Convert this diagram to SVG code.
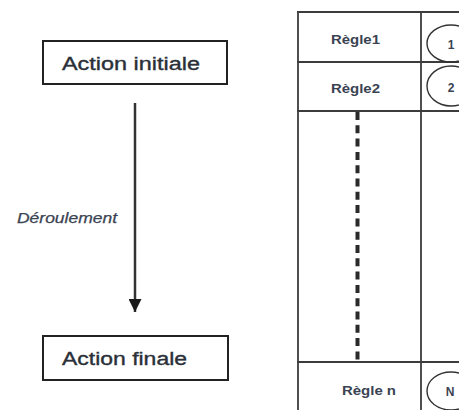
<svg xmlns="http://www.w3.org/2000/svg" width="459" height="410" viewBox="0 0 459 410">
  <style>
    .box { fill: #ffffff; stroke: #222222; stroke-width: 2; }
    .big { font-family: "Liberation Sans", Arial, sans-serif; font-size: 18px; fill: #2a2f38; stroke: #2a2f38; stroke-width: 0.35; }
    .rule { font-family: "Liberation Sans", Arial, sans-serif; font-size: 12.5px; font-weight: bold; fill: #3a4352; text-anchor: middle; }
    .num { font-family: "Liberation Sans", Arial, sans-serif; font-size: 12px; font-weight: bold; fill: #3a4352; text-anchor: middle; }
    .grid { stroke: #3c3c3c; stroke-width: 1.8; fill: none; }
    .bubble { fill: none; stroke: #333333; stroke-width: 1.4; }
    .flow { stroke: #333333; stroke-width: 2.5; fill: none; }
  </style>
  <defs>
    <marker id="arrowhead" viewBox="0 0 10 10" refX="10" refY="5" markerWidth="5.2" markerHeight="5.2" orient="auto" markerUnits="strokeWidth">
      <path d="M0,0 L10,5 L0,10 Z" fill="#1a1a1a"/>
    </marker>
  </defs>
  <rect width="459" height="410" fill="#ffffff"/>

  <!-- left: sequence of actions -->
  <g id="action-initiale">
    <rect class="box" x="43" y="41" width="184" height="43"/>
    <text class="big" x="62" y="70" textLength="138" lengthAdjust="spacingAndGlyphs">Action initiale</text>
  </g>
  <g id="action-finale">
    <rect class="box" x="43" y="336" width="185" height="44"/>
    <text class="big" x="62" y="365" textLength="125" lengthAdjust="spacingAndGlyphs">Action finale</text>
  </g>
  <g id="connectors">
    <line class="flow" x1="135" y1="103" x2="135" y2="312" marker-end="url(#arrowhead)"/>
    <text x="17" y="223" font-family="Liberation Sans, Arial, sans-serif" font-size="14" font-style="italic" fill="#3a4352" stroke="#3a4352" stroke-width="0.25" textLength="100" lengthAdjust="spacingAndGlyphs">Déroulement</text>
  </g>

  <!-- right: rule table -->
  <g id="rule-table">
    <line class="grid" x1="297" y1="12" x2="459" y2="12"/>
    <line class="grid" x1="298" y1="12" x2="298" y2="410"/>
    <line class="grid" x1="421" y1="12" x2="421" y2="410"/>
    <line class="grid" x1="297" y1="62" x2="459" y2="62"/>
    <line class="grid" x1="297" y1="111" x2="459" y2="111"/>
    <line class="grid" x1="297" y1="362" x2="459" y2="362"/>
    <line x1="357.5" y1="112" x2="357.5" y2="361" stroke="#2a2a2a" stroke-width="4" stroke-dasharray="8 5.3"/>
  </g>
  <g id="regle-1">
    <text class="rule" x="355.5" y="43.5" textLength="49" lengthAdjust="spacingAndGlyphs">Règle1</text>
    <ellipse class="bubble" cx="451" cy="43.5" rx="24" ry="18.5"/>
    <text class="num" x="451" y="49">1</text>
  </g>
  <g id="regle-2">
    <text class="rule" x="355.5" y="93" textLength="49" lengthAdjust="spacingAndGlyphs">Règle2</text>
    <ellipse class="bubble" cx="451" cy="86" rx="24" ry="20"/>
    <text class="num" x="451" y="92">2</text>
  </g>
  <g id="regle-n">
    <text class="rule" x="369" y="395" textLength="54" lengthAdjust="spacingAndGlyphs">Règle n</text>
    <ellipse class="bubble" cx="451" cy="391" rx="24" ry="19"/>
    <text class="num" x="450" y="396" font-size="14">N</text>
  </g>
</svg>
